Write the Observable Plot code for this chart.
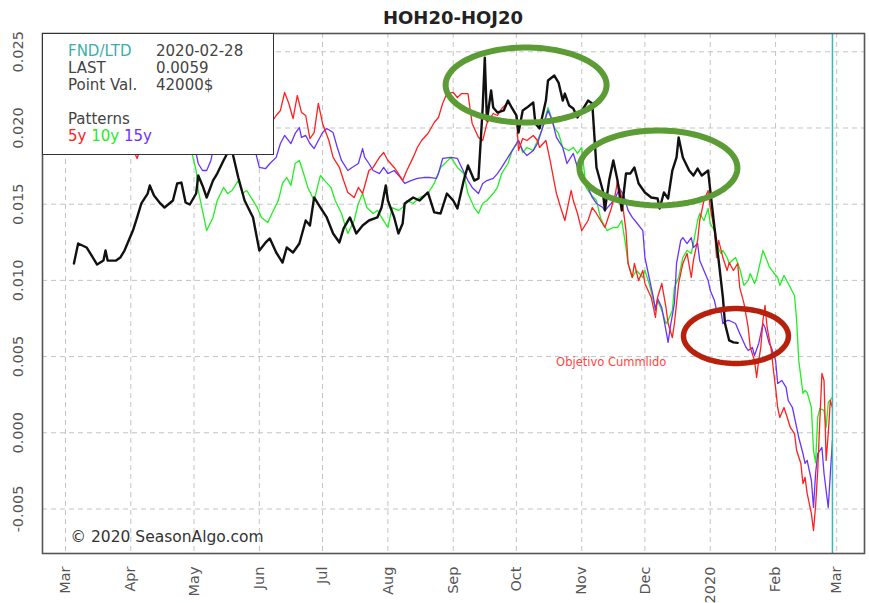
<!DOCTYPE html>
<html>
<head>
<meta charset="utf-8">
<script src="https://cdn.jsdelivr.net/npm/d3@7"></script>
<script src="https://cdn.jsdelivr.net/npm/@observablehq/plot@0.6"></script>
<style>
  body { margin: 0; background: #fff; font-family: "DejaVu Sans", sans-serif; }
  #wrap { position: relative; width: 869px; height: 603px; overflow: hidden; }
  #title { height: 28px; box-sizing: border-box; padding: 7px 5px 0 42px; line-height: 22px;
           text-align: center; font-size: 18px; font-weight: bold; color: #222; }
  #legend { position: absolute; left: 42px; top: 33px; width: 232px; height: 122px; box-sizing: border-box;
            background: #fff; border: 1.5px solid #333; padding: 9px 0 0 25px;
            font-size: 15px; line-height: 17px; color: #444; white-space: pre; }
  #legend .k { display: inline-block; width: 88px; }
</style>
</head>
<body>
<div id="wrap">
  <div id="title">HOH20-HOJ20</div>
  <div id="chart"></div>
  <div id="legend"></div>
</div>
<script>
// ---- data: [day offset from 2019-03-01, spread value] ----
const actual = [[4,0.01111],[6,0.01242],[10,0.01216],[13,0.01150],[15,0.01104],[18,0.01130],[19,0.01196],[20,0.01130],[24,0.01130],[26,0.01150],[28,0.01196],[32,0.01327],[34,0.01413],[36,0.01505],[39,0.01570],[40,0.01623],[42,0.01557],[45,0.01505],[47,0.01478],[51,0.01524],[53,0.01636],[55,0.01642],[57,0.01511],[59,0.01498],[62,0.01570],[63,0.01688],[65,0.01623],[67,0.01544],[70,0.01655],[72,0.01701],[75,0.01787],[77,0.01839],[79,0.01852],[82,0.01675],[85,0.01524],[89,0.01413],[92,0.01196],[95,0.01249],[97,0.01275],[100,0.01183],[103,0.01117],[105,0.01216],[108,0.01183],[111,0.01242],[114,0.01393],[116,0.01360],[118,0.01544],[121,0.01478],[124,0.01413],[127,0.01308],[130,0.01249],[132,0.01341],[135,0.01413],[138,0.01308],[141,0.01360],[144,0.01393],[148,0.01413],[150,0.01478],[152,0.01623],[153,0.01524],[156,0.01413],[158,0.01308],[160,0.01373],[161,0.01505],[165,0.01544],[168,0.01524],[172,0.01577],[175,0.01446],[178,0.01439],[181,0.01570],[184,0.01524],[186,0.01472],[189,0.01655],[191,0.01754],[194,0.01655],[196,0.01669],[198,0.02134],[199,0.02462],[200,0.02049],[202,0.02246],[203,0.02134],[205,0.02101],[208,0.02115],[210,0.02180],[212,0.02128],[214,0.02082],[215,0.01970],[217,0.02115],[219,0.02134],[222,0.02167],[223,0.02030],[225,0.01997],[228,0.02180],[229,0.02312],[232,0.02344],[234,0.02298],[236,0.02180],[237,0.02226],[239,0.02148],[241,0.02128],[243,0.02069],[246,0.02134],[248,0.02180],[250,0.02161],[252,0.01741],[255,0.01590],[256,0.01459],[258,0.01655],[260,0.01787],[262,0.01655],[264,0.01459],[266,0.01701],[268,0.01701],[270,0.01741],[272,0.01636],[275,0.01577],[278,0.01544],[281,0.01537],[282,0.01472],[284,0.01577],[286,0.01537],[288,0.01721],[290,0.01807],[291,0.01938],[293,0.01807],[296,0.01721],[298,0.01688],[300,0.01734],[302,0.01688],[305,0.01721],[306,0.01590],[308,0.01347],[310,0.01130],[312,0.00888],[313,0.00717],[315,0.00606],[317,0.00593],[319,0.00590]];

const pattern5y = [[0,0.0205],[5,0.0212],[10,0.0200],[15,0.0208],[20,0.0196],[25,0.0203],[30,0.0192],[34,0.0180],[37,0.0194],[42,0.0205],[48,0.0198],[53,0.0210],[58,0.0203],[62,0.0215],[67,0.0207],[72,0.0218],[77,0.0210],[82,0.0203],[87,0.0196],[92,0.0205],[96,0.0200],[100,0.02082],[102,0.02115],[104,0.02233],[106,0.02161],[108,0.02062],[110,0.02213],[112,0.02102],[114,0.02082],[116,0.01931],[118,0.01970],[120,0.02161],[122,0.02030],[125,0.01918],[127,0.01807],[130,0.01741],[132,0.01655],[134,0.01577],[137,0.01544],[139,0.01610],[141,0.01570],[144,0.01721],[146,0.01741],[149,0.01807],[151,0.01839],[153,0.01787],[156,0.01741],[158,0.01701],[160,0.01655],[162,0.01721],[165,0.01807],[167,0.01872],[169,0.01918],[172,0.01964],[175,0.02036],[177,0.02069],[179,0.02161],[181,0.02226],[184,0.02233],[186,0.02200],[188,0.02226],[191,0.02226],[193,0.02030],[196,0.01938],[198,0.01918],[200,0.02030],[203,0.02095],[205,0.02082],[207,0.02128],[210,0.02167],[212,0.02134],[214,0.02082],[215,0.01852],[217,0.01931],[219,0.01918],[222,0.01951],[224,0.01918],[225,0.01872],[228,0.01918],[230,0.01787],[233,0.01570],[235,0.01478],[237,0.01393],[240,0.01590],[241,0.01524],[243,0.01439],[245,0.01327],[248,0.01393],[250,0.01478],[252,0.01439],[254,0.01393],[256,0.01347],[259,0.01472],[261,0.01570],[262,0.01655],[264,0.01544],[266,0.01327],[267,0.01111],[269,0.01019],[270,0.01111],[272,0.00999],[274,0.01065],[275,0.00980],[278,0.00888],[280,0.00757],[281,0.00888],[283,0.00980],[285,0.00822],[286,0.00717],[288,0.00625],[289,0.00717],[291,0.00980],[293,0.01111],[295,0.01177],[297,0.01019],[298,0.01130],[300,0.01262],[301,0.01393],[303,0.01524],[305,0.01590],[306,0.01478],[308,0.01327],[309,0.01150],[310,0.01262],[312,0.01150],[314,0.01065],[315,0.01117],[317,0.01065],[319,0.01111],[320,0.00953],[322,0.00849],[324,0.00691],[325,0.00560],[327,0.00475],[328,0.00363],[329,0.00475],[330,0.00560],[331,0.00737],[332,0.00836],[333,0.00691],[335,0.00540],[336,0.00409],[337,0.00298],[338,0.00166],[339,0.00101],[341,0.00166],[343,0.00081],[344,0.00035],[346,-0.00005],[347,-0.00116],[349,-0.00201],[350,-0.00333],[351,-0.00293],[352,-0.00398],[354,-0.00530],[355,-0.00641],[356,-0.00480],[357,-0.00250],[358,0.00080],[359,0.00389],[360,0.00343],[361,-0.00181],[362,-0.00005],[363,0.00212],[364,0.00166]];

const pattern10y = [[0,0.0196],[6,0.0203],[12,0.0192],[18,0.0199],[24,0.0190],[30,0.0197],[36,0.0205],[42,0.0198],[48,0.0207],[54,0.0200],[58,0.0195],[60,0.01833],[62,0.01721],[63,0.01590],[65,0.01459],[67,0.01327],[70,0.01413],[72,0.01524],[75,0.01610],[77,0.01570],[79,0.01590],[82,0.01655],[84,0.01570],[86,0.01590],[89,0.01524],[91,0.01478],[93,0.01413],[96,0.01380],[98,0.01439],[101,0.01524],[103,0.01636],[105,0.01675],[107,0.01623],[109,0.01767],[111,0.01787],[113,0.01701],[115,0.01610],[118,0.01524],[120,0.01636],[121,0.01688],[123,0.01655],[126,0.01610],[128,0.01524],[131,0.01439],[133,0.01347],[134,0.01308],[137,0.01393],[139,0.01505],[141,0.01570],[143,0.01478],[146,0.01439],[148,0.01459],[150,0.01413],[153,0.01347],[155,0.01478],[158,0.01459],[160,0.01478],[162,0.01524],[165,0.01505],[168,0.01544],[172,0.01570],[175,0.01636],[178,0.01741],[183,0.01807],[186,0.01741],[189,0.01701],[191,0.01570],[194,0.01478],[196,0.01439],[198,0.01505],[200,0.01524],[203,0.01570],[205,0.01610],[207,0.01701],[210,0.01767],[212,0.01852],[215,0.01918],[217,0.01839],[219,0.01872],[222,0.01852],[224,0.01918],[226,0.01984],[229,0.02134],[230,0.02095],[232,0.02003],[234,0.01964],[236,0.01872],[239,0.01852],[241,0.01872],[243,0.01833],[245,0.01872],[247,0.01610],[249,0.01570],[252,0.01524],[254,0.01406],[257,0.01327],[260,0.01347],[262,0.01347],[264,0.01393],[266,0.01216],[267,0.01111],[269,0.01019],[271,0.01065],[274,0.01019],[275,0.01065],[277,0.00980],[279,0.00868],[280,0.00822],[281,0.00868],[283,0.00803],[285,0.00717],[286,0.00737],[288,0.00803],[289,0.00953],[291,0.01019],[293,0.01150],[295,0.01196],[297,0.01177],[298,0.01242],[300,0.01393],[301,0.01439],[303,0.01393],[305,0.01472],[306,0.01373],[308,0.01327],[309,0.01242],[311,0.01177],[312,0.01196],[314,0.01150],[315,0.01111],[318,0.01150],[320,0.01078],[322,0.00967],[324,0.01000],[325,0.01045],[327,0.00980],[328,0.01013],[331,0.01196],[332,0.01163],[334,0.01091],[336,0.01052],[338,0.01019],[339,0.00967],[341,0.01032],[343,0.00980],[344,0.00953],[346,0.00901],[347,0.00737],[348,0.00475],[350,0.00258],[351,0.00278],[352,0.00265],[354,0.00166],[355,-0.00116],[356,-0.00195],[357,0.00101],[358,0.00160],[360,0.00147],[361,0.00035],[362,0.00199],[364,0.00232]];

const pattern15y = [[0,0.0201],[6,0.0208],[12,0.0198],[18,0.0205],[24,0.0195],[30,0.0202],[36,0.0210],[42,0.0203],[48,0.0212],[54,0.0204],[58,0.0196],[62,0.01833],[63,0.01767],[65,0.01721],[67,0.01721],[69,0.01787],[70,0.01852],[73,0.0192],[77,0.0200],[81,0.0195],[85,0.0203],[88,0.0196],[90,0.01852],[92,0.01741],[95,0.01734],[97,0.01767],[100,0.01807],[102,0.01898],[104,0.01951],[107,0.01898],[109,0.01964],[111,0.02003],[112,0.01938],[114,0.01951],[116,0.01898],[118,0.01865],[120,0.01918],[122,0.01970],[124,0.01997],[127,0.01970],[129,0.01872],[131,0.01787],[134,0.01721],[136,0.01741],[139,0.01767],[141,0.01865],[142,0.01807],[144,0.01767],[146,0.01721],[149,0.01701],[151,0.01741],[153,0.01701],[156,0.01721],[159,0.01675],[161,0.01636],[164,0.01655],[167,0.01669],[170,0.01675],[173,0.01675],[176,0.01669],[177,0.01701],[179,0.01800],[183,0.01807],[186,0.01800],[188,0.01741],[191,0.01655],[193,0.01610],[196,0.01570],[198,0.01636],[200,0.01655],[203,0.01669],[205,0.01701],[207,0.01741],[210,0.01807],[212,0.01852],[215,0.01918],[217,0.01852],[219,0.01819],[222,0.01852],[224,0.01898],[226,0.01984],[229,0.02115],[231,0.02049],[233,0.01938],[236,0.01872],[238,0.01767],[241,0.01833],[243,0.01741],[245,0.01655],[248,0.01610],[250,0.01544],[252,0.01505],[255,0.01478],[256,0.01459],[259,0.01505],[261,0.01544],[263,0.01603],[265,0.01557],[267,0.01459],[269,0.01413],[271,0.01380],[274,0.01327],[275,0.01150],[277,0.01019],[279,0.00888],[280,0.00803],[281,0.00881],[283,0.00822],[285,0.00671],[286,0.00593],[287,0.00691],[289,0.00849],[290,0.01111],[292,0.01262],[293,0.01281],[295,0.01242],[297,0.01281],[298,0.01216],[300,0.01242],[301,0.01130],[303,0.01065],[305,0.00999],[306,0.00934],[308,0.00868],[309,0.00803],[311,0.00803],[312,0.00717],[314,0.00737],[315,0.00737],[318,0.00717],[320,0.00652],[323,0.00560],[324,0.00540],[326,0.00560],[327,0.00507],[329,0.00586],[331,0.00717],[332,0.00691],[334,0.00586],[335,0.00560],[337,0.00475],[338,0.00324],[340,0.00343],[342,0.00298],[343,0.00212],[345,0.00166],[347,0.00035],[348,-0.00031],[350,-0.00136],[351,-0.00201],[352,-0.00181],[354,-0.00313],[355,-0.00490],[356,-0.00267],[357,-0.00136],[359,-0.00096],[360,-0.00267],[362,-0.00490],[363,-0.00267],[364,-0.00050]];

// axis ticks
const monthLabels = ["Mar","Apr","May","Jun","Jul","Aug","Sep","Oct","Nov","Dec","2020","Feb","Mar"];
const yTicks = [-0.005, 0.000, 0.005, 0.010, 0.015, 0.020, 0.025];
const yTickLabels = ["-0.005","0.000","0.005","0.010","0.015","0.020","0.025"];

// info box
const infoRows = [["FND/LTD","2020-02-28"],["LAST","0.0059"],["Point Val.","42000$"]];
const patternNames = ["5y","10y","15y"];
const fndDay = 364;

// annotations (center day, center value, half-width in days, half-height in value)
const ellipses = [
  {name: "peak1", day: 218.6, value: 0.02282, rx: 38.2, ry: 0.00246},
  {name: "peak2", day: 281.4, value: 0.01738, rx: 37.5, ry: 0.00246},
  {name: "target", day: 318.2, value: 0.00635, rx: 24.9, ry: 0.00180}
];
const noteText = "Objetivo Cummlido";
const noteAt = [259, 0.00461];
const copyright = "\u00a9 2020 SeasonAlgo.com";

// ---- build ----
const START = Date.UTC(2019, 2, 1);
const toDate = d => new Date(START + d * 864e5);
const rows = (arr) => arr.map(([d, v]) => ({date: toDate(d), value: v}));

const monthTicks = d3.utcMonth.range(new Date(START), new Date(Date.UTC(2020, 2, 2)));
const tickRecs = monthTicks.map((t, i) => ({date: t, label: monthLabels[i]}));

function ellipsePts(e) {
  const pts = [];
  for (let i = 0; i <= 90; i++) {
    const a = (2 * Math.PI * i) / 90;
    pts.push({date: toDate(e.day + e.rx * Math.cos(a)), value: e.value + e.ry * Math.sin(a), name: e.name});
  }
  return pts;
}

const COLORS = {actual: "#111111", p5: "#ff2020", p10: "#22ee22", p15: "#6633ff"};
const GREEN_RING = "#5c9c34", RED_RING = "#b7200c";
const grid = {stroke: "#c4c4c4", strokeWidth: 1, strokeDasharray: "5,4"};

const chart = Plot.plot({
  width: 869,
  height: 575,
  marginTop: 5,
  marginLeft: 42,
  marginRight: 5,
  marginBottom: 50,
  style: {fontFamily: "DejaVu Sans, sans-serif", background: "#fff"},
  x: {type: "utc", domain: [new Date(Date.UTC(2019, 1, 18, 2)), new Date(Date.UTC(2020, 2, 14, 5))], axis: null},
  y: {domain: [-0.00792, 0.02620], axis: null},
  marks: [
    Plot.ruleY(yTicks, grid),
    Plot.ruleX(monthTicks, grid),
    Plot.line(rows(pattern10y), {x: "date", y: "value", stroke: COLORS.p10, strokeWidth: 1.3}),
    Plot.line(rows(pattern15y), {x: "date", y: "value", stroke: COLORS.p15, strokeWidth: 1.3}),
    Plot.line(rows(pattern5y), {x: "date", y: "value", stroke: COLORS.p5, strokeWidth: 1.3}),
    Plot.line(rows(actual), {x: "date", y: "value", stroke: COLORS.actual, strokeWidth: 2.4}),
    Plot.ruleX([toDate(fndDay)], {stroke: "#3fb3b3", strokeWidth: 1.5}),
    Plot.line(ellipsePts(ellipses[0]), {x: "date", y: "value", stroke: GREEN_RING, strokeWidth: 6}),
    Plot.line(ellipsePts(ellipses[1]), {x: "date", y: "value", stroke: GREEN_RING, strokeWidth: 6}),
    Plot.line(ellipsePts(ellipses[2]), {x: "date", y: "value", stroke: RED_RING, strokeWidth: 5.5}),
    Plot.text([noteText], {x: toDate(noteAt[0]), y: noteAt[1], text: d => d, fill: "#ff4444", fontSize: 11.5, textAnchor: "middle"}),
    Plot.text([copyright], {frameAnchor: "bottom-left", dx: 28, dy: -16, text: d => d, fill: "#333", fontSize: 15.5, textAnchor: "start", lineAnchor: "middle"}),
    Plot.frame({stroke: "#555", strokeWidth: 1.6}),
    Plot.text(yTicks.map((v, i) => ({v, label: yTickLabels[i]})), {y: "v", frameAnchor: "left", dx: -24, rotate: -90, text: "label", fill: "#555", fontSize: 14.5, textAnchor: "middle", lineAnchor: "middle"}),
    Plot.text(tickRecs, {x: "date", frameAnchor: "bottom", dy: 13, rotate: -90, text: "label", fill: "#555", fontSize: 14.5, textAnchor: "end", lineAnchor: "middle"})
  ]
});
document.getElementById("chart").appendChild(chart);

// info box
const legend = document.getElementById("legend");
const patColors = [COLORS.p5, COLORS.p10, COLORS.p15];
let html = "";
infoRows.forEach(([k, v], i) => {
  html += `<div><span class="k"${i === 0 ? ' style="color:#3aafaa"' : ""}>${k}</span>${v}</div>`;
});
html += `<div>&nbsp;</div><div>Patterns</div><div>` +
  patternNames.map((n, i) => `<span style="color:${patColors[i]}">${n}</span>`).join(" ") + `</div>`;
legend.innerHTML = html;
</script>
</body>
</html>
